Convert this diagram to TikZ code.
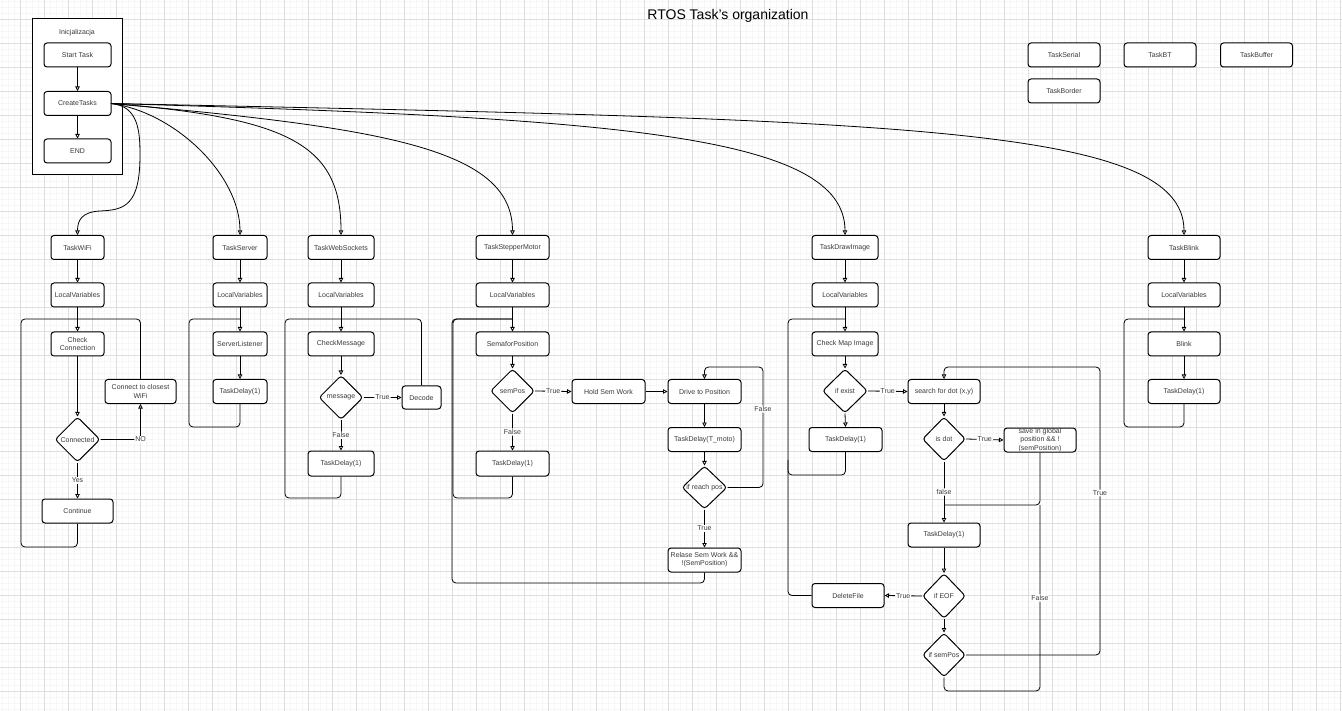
\documentclass[tikz,border=0pt]{standalone}
\usepackage{fontspec}
\setmainfont{Liberation Sans}
\usetikzlibrary{arrows.meta,shapes.geometric}
\definecolor{gmaj}{HTML}{DEDEDE}
\definecolor{gmin}{HTML}{F6F6F6}
\definecolor{txt}{HTML}{3A3A3A}
\newcommand{\sm}{\fontsize{7}{8.2}\selectfont}
\tikzset{
  bx/.style={draw=black, line width=1pt, rounded corners=3pt, minimum height=24, minimum width=54, inner sep=1pt, align=center, font=\sm, text=txt, fill=white},
  dm/.style={draw=black, line width=1pt, diamond, rounded corners=3pt, minimum width=45, minimum height=45, inner sep=0pt, font=\sm, text=txt, fill=white},
  ln/.style={draw=black, line width=0.8pt, rounded corners=4pt},
  ar/.style={ln, -{Triangle[open,length=4.5pt,width=4.5pt]}},
  lbl/.style={fill=white, inner sep=1pt, font=\sm, text=txt}
}
\begin{document}
\begin{tikzpicture}[x=1pt,y=-1pt]
\useasboundingbox (0,0) rectangle (1342,711);
\fill[white] (0,0) rectangle (1342,711);
% grid
\foreach \i in {-3,...,224} {\draw[gmin, line width=0.4pt] (2.5+6*\i,0) -- (2.5+6*\i,711);}
\foreach \i in {-3,...,119} {\draw[gmin, line width=0.4pt] (0,1.5+6*\i) -- (1342,1.5+6*\i);}
\foreach \i in {0,...,55} {\draw[gmaj, line width=0.7pt] (20.5+24*\i,0) -- (20.5+24*\i,711);}
\foreach \i in {0,...,29} {\draw[gmaj, line width=0.7pt] (0,19.5+24*\i) -- (1342,19.5+24*\i);}

% title
\node[font=\fontsize{14}{16}\selectfont, text=black] (title) at (728,16) {RTOS Task's organization};

% init block
\node[draw=black, line width=1pt, minimum width=90, minimum height=156, inner sep=0pt, fill=white] (init) at (77,97) {};
\node[font=\sm, text=txt] (initt) at (77,33) {Inicjalizacja};
\node[bx, minimum width=67] (st) at (77.5,55) {Start Task};
\node[bx, minimum width=67] (ct) at (77.5,103.5) {CreateTasks};
\node[bx, minimum width=67] (en) at (77.5,151) {END};
\draw[ar] (st) -- (ct);
\draw[ar] (ct) -- (en);

% top-right boxes
\node[bx, minimum width=72] (tser) at (1064,55) {TaskSerial};
\node[bx, minimum width=72] (tbt) at (1160,55) {TaskBT};
\node[bx, minimum width=72] (tbuf) at (1256.5,55) {TaskBuffer};
\node[bx, minimum width=72] (tbor) at (1064,91) {TaskBorder};

% ---------- WiFi
\node[bx, minimum width=53] (wifi) at (77.5,247.5) {TaskWiFi};
\node[bx, minimum width=53] (wlv) at (77.5,295) {LocalVariables};
\node[bx, minimum width=53] (wcc) at (77.5,344) {Check\\Connection};
\node[bx, minimum width=71] (wcon) at (140.5,391.5) {Connect to closest\\WiFi};
\node[dm] (wdm) at (77.5,439.5) {\makebox[0pt]{Connected}};
\node[bx, minimum width=71] (wcont) at (77.5,511) {Continue};
\draw[ar] (wifi) -- (wlv);
\draw[ar] (wlv) -- (wcc);
\draw[ar] (wcc) -- (wdm);
\draw[ar] (wdm) -- node[lbl]{Yes} (wcont);
\draw[ar] (wdm.east) -| node[lbl, pos=0.5]{NO} (wcon.south);
\draw[ln] (wcont.south) -- (77.5,547) -- (21,547) -- (21,319) -- (77.5,319);
\draw[ln] (wcon.north) -- (140.5,319) -- (77.5,319);

% ---------- Server
\node[bx] (srv) at (240,247.5) {TaskServer};
\node[bx] (slv) at (240,295) {LocalVariables};
\node[bx] (sl) at (240,344) {ServerListener};
\node[bx] (sd) at (240,391.5) {TaskDelay(1)};
\draw[ar] (srv) -- (slv);
\draw[ar] (slv) -- (sl);
\draw[ar] (sl) -- (sd);
\draw[ln] (sd.south) -- (240,427) -- (189,427) -- (189,319) -- (240,319);

% ---------- WebSockets
\node[bx, minimum width=66] (ws) at (341,247.5) {TaskWebSockets};
\node[bx, minimum width=66] (wslv) at (341,295) {LocalVariables};
\node[bx, minimum width=66] (cm) at (341,344) {CheckMessage};
\node[dm, minimum width=44, minimum height=44] (msg) at (341,397.5) {\makebox[0pt]{message}};
\node[bx, minimum width=39, minimum height=23] (dec) at (421.5,397.5) {Decode};
\node[bx, minimum width=66, minimum height=25] (wsd) at (341,463.5) {TaskDelay(1)};
\draw[ar] (ws) -- (wslv);
\draw[ar] (wslv) -- (cm);
\draw[ar] (cm) -- (msg);
\draw[ar] (msg.east) -- node[lbl]{True} (dec.west);
\draw[ar] (msg.south) -- node[lbl]{False} (wsd.north);
\draw[ln] (wsd.south) -- (341,498) -- (285,498) -- (285,319) -- (341,319);
\draw[ln] (dec.north) -- (421.5,319) -- (341,319);

% ---------- Stepper motor
\node[bx, minimum width=73] (smt) at (512.5,247.5) {TaskStepperMotor};
\node[bx, minimum width=73] (smlv) at (512.5,295) {LocalVariables};
\node[bx, minimum width=73] (sp) at (512.5,344) {SemaforPosition};
\node[dm, minimum width=44, minimum height=44] (spd) at (512.5,391) {\makebox[0pt]{semPos}};
\node[bx, minimum width=73, minimum height=25] (smd) at (512.5,463.5) {TaskDelay(1)};
\node[bx, minimum width=73] (hsw) at (608.5,391.5) {Hold Sem Work};
\node[bx, minimum width=73] (dtp) at (704.5,391.5) {Drive to Position};
\node[bx, minimum width=73] (tdm) at (704.5,439.5) {TaskDelay(T\_moto)};
\node[dm, minimum width=45, minimum height=43] (rp) at (704.5,487.5) {\makebox[0pt]{if reach pos}};
\node[bx, minimum width=73] (rsw) at (704.5,560) {Relase Sem Work \&\&\\!(SemPosition)};
\draw[ar] (smt) -- (smlv);
\draw[ar] (smlv) -- (sp);
\draw[ar] (sp) -- (spd);
\draw[ar] (spd.east) -- node[lbl]{True} (hsw.west);
\draw[ar] (spd.south) -- node[lbl]{False} (smd.north);
\draw[ar] (hsw) -- (dtp);
\draw[ar] (dtp) -- (tdm);
\draw[ar] (tdm) -- (rp);
\draw[ar] (rp.south) -- node[lbl]{True} (rsw.north);
\draw[ar] (rp.east) -- (763,487.5) -- node[lbl, pos=0.65]{False} (763,367) -- (704.5,367) -- (dtp.north);
\draw[ln] (smd.south) -- (512.5,498) -- (453,498) -- (453,319) -- (512.5,319);
\draw[ln] (rsw.south) -- (704.5,583) -- (452,583) -- (452,319) -- (512.5,319);

% ---------- Draw image
\node[bx, minimum width=66] (di) at (845,247.5) {TaskDrawImage};
\node[bx, minimum width=66] (dilv) at (845,295) {LocalVariables};
\node[bx, minimum width=66] (cmi) at (845,344) {Check Map Image};
\node[dm, minimum width=45, minimum height=44] (ie) at (845,391) {\makebox[0pt]{if exist}};
\node[bx, minimum width=73] (did) at (845.5,439.5) {TaskDelay(1)};
\node[bx, minimum width=72] (sfd) at (944,391.5) {search for dot (x,y)};
\node[dm, minimum width=43, minimum height=44] (isd) at (944,439) {\makebox[0pt]{is dot}};
\node[bx, minimum width=72, inner sep=0pt] (sav) at (1040,440) {\fontsize{7}{7.8}\selectfont save in global\\\fontsize{7}{7.8}\selectfont position \&\& !\\\fontsize{7}{7.8}\selectfont (semPosition)};
\node[bx, minimum width=72] (did2) at (944,535) {TaskDelay(1)};
\node[dm, minimum width=43, minimum height=45] (eof) at (944,596) {\makebox[0pt]{if EOF}};
\node[bx, minimum width=72] (del) at (848,595.5) {DeleteFile};
\node[dm, minimum width=43, minimum height=44] (isp) at (944,655) {\makebox[0pt]{if semPos}};
\draw[ar] (di) -- (dilv);
\draw[ar] (dilv) -- (cmi);
\draw[ar] (cmi) -- (ie);
\draw[ar] (ie.south) -- (did.north);
\draw[ar] (ie.east) -- node[lbl]{True} (sfd.west);
\draw[ar] (sfd) -- (isd);
\draw[ar] (isd.east) -- node[lbl]{True} (sav.west);
\draw[ar] (isd.south) -- node[lbl, pos=0.5]{false} (did2.north);
\draw[ar] (did2) -- (eof);
\draw[ar] (eof.west) -- node[lbl]{True} (del.east);
\draw[ar] (eof) -- (isp);
\draw[ln] (did.south) -- (845.5,475) -- (788,475) -- (788,319) -- (845,319);
\draw[ln] (del.west) -- (788,595.5) -- (788,460);
\draw[ln] (sav.south) -- (1040,505) -- (944,505);
\draw[ln] (isp.south) -- (944,691) -- (1040,691) -- node[lbl, pos=0.5]{False} (1040,505);
\draw[ar] (isp.east) -- (1100,655) -- node[lbl, pos=0.5625]{True} (1100,367) -- (944,367) -- (sfd.north);

% ---------- Blink
\node[bx, minimum width=72] (bl) at (1184,247.5) {TaskBlink};
\node[bx, minimum width=72] (bllv) at (1184,295) {LocalVariables};
\node[bx, minimum width=72] (blk) at (1184,344) {Blink};
\node[bx, minimum width=72] (bld) at (1184,391.5) {TaskDelay(1)};
\draw[ar] (bl) -- (bllv);
\draw[ar] (bllv) -- (blk);
\draw[ar] (blk) -- (bld);
\draw[ln] (bld.south) -- (1184,427) -- (1124,427) -- (1124,319) -- (1184,319);

% ---------- curves from CreateTasks
\coordinate (cte) at (111,103.5);
\draw[ar, rounded corners=0pt] (cte) .. controls (138,106) and (140,130) .. (140,155) .. controls (140,205) and (125,210) .. (100,211) .. controls (82,212) and (77.5,220) .. (wifi.north);
\draw[ar, rounded corners=0pt] (cte) .. controls (175,112) and (240,175) .. (srv.north);
\draw[ar, rounded corners=0pt] (cte) .. controls (290,118) and (341,145) .. (ws.north);
\draw[ar, rounded corners=0pt] (cte) .. controls (390,128) and (512.5,150) .. (smt.north);
\draw[ar, rounded corners=0pt] (cte) .. controls (620,118) and (845,135) .. (di.north);
\draw[ar, rounded corners=0pt] (cte) .. controls (900,120) and (1184,125) .. (bl.north);
\end{tikzpicture}
\end{document}
